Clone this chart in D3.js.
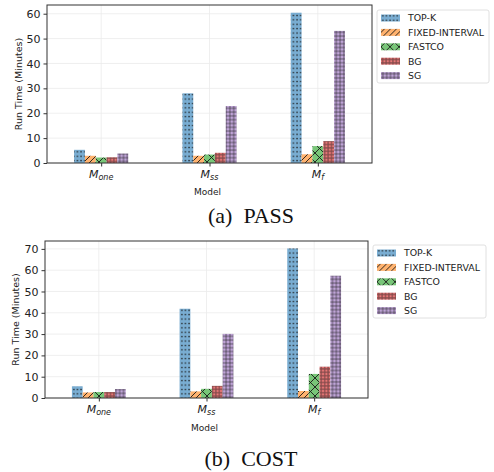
<!DOCTYPE html>
<html><head><meta charset="utf-8">
<script src="https://cdn.jsdelivr.net/npm/d3@7"></script>
<style>body{margin:0;background:#fff}svg{display:block}</style>
</head><body>
<svg id="chart" width="494" height="472"></svg>
<script>
// ---- data ----
const categories = ["one", "ss", "f"];           // subscripts of M
const seriesNames = ["TOP-K", "FIXED-INTERVAL", "FASTCO", "BG", "SG"];
const seriesColors = ["#79add2", "#ffb26e", "#78c678", "#e67676", "#bfa4d7"];
const seriesHatch = ["dots", "slash", "cross", "circles", "plus"];
const passTopK  = [5.3, 28.0, 60.4];
const passFixed = [2.9, 2.9, 3.5];
const passFast  = [2.2, 3.4, 6.8];
const passBG    = [2.3, 4.1, 8.8];
const passSG    = [3.8, 22.9, 53.1];
const costTopK  = [5.5, 41.9, 70.2];
const costFixed = [2.6, 3.1, 3.3];
const costFast  = [2.8, 4.3, 11.3];
const costBG    = [2.8, 5.7, 14.7];
const costSG    = [4.2, 30.1, 57.4];
const passTicks = [0, 10, 20, 30, 40, 50, 60];
const costTicks = [0, 10, 20, 30, 40, 50, 60, 70];

const svg = d3.select("#chart");
const defs = svg.append("defs");

// hatch patterns
function makePatterns() {
  seriesNames.forEach((s, j) => {
    const c = seriesColors[j], h = seriesHatch[j];
    const w = h === "cross" ? 9 : (h === "slash" ? 6 : (h === "dots" ? 3.6 : (h === "plus" ? 3.8 : 3.4)));
    const hh = h === "dots" ? 4.4 : w;
    const p = defs.append("pattern").attr("id", "pat" + j)
      .attr("patternUnits", "userSpaceOnUse").attr("width", w).attr("height", hh);
    p.append("rect").attr("width", w).attr("height", hh).attr("fill", c);
    const k = "#1a1a1a";
    if (h === "dots") {
      p.append("rect").attr("x", 1.2).attr("y", 1.6).attr("width", 1.3).attr("height", 1.3).attr("fill", k);
    } else if (h === "slash") {
      p.append("path").attr("d", `M0,${w} L${w},0 M${-w/2},${w/2} L${w/2},${-w/2} M${w/2},${w*1.5} L${w*1.5},${w/2}`)
        .attr("stroke", k).attr("stroke-width", 0.9);
    } else if (h === "cross") {
      p.append("path").attr("d", `M0,0 L${w},${w} M0,${w} L${w},0`)
        .attr("stroke", k).attr("stroke-width", 0.9);
    } else if (h === "circles") {
      p.append("circle").attr("cx", w/2).attr("cy", w/2).attr("r", 1.05)
        .attr("fill", "none").attr("stroke", k).attr("stroke-width", 0.55);
    } else if (h === "plus") {
      p.append("path").attr("d", `M${w/2},0 V${w} M0,${w/2} H${w}`)
        .attr("stroke", k).attr("stroke-width", 0.55);
    }
  });
}
makePatterns();

function panel(cfg) {
  const {values, ticks, ymax, x0, x1, yTop, yBot, legX, legY, legW, legH, caption, capY, modelY, ylabX} = cfg;
  const g = svg.append("g");
  const x = d3.scaleLinear().domain([-0.5, 2.5]).range([x0, x1]);
  const y = d3.scaleLinear().domain([0, ymax]).range([yBot, yTop]);

  // grid
  g.append("g").selectAll("line.h").data(ticks).join("line")
    .attr("x1", x0).attr("x2", x1).attr("y1", d => y(d)).attr("y2", d => y(d))
    .attr("stroke", "#ebebeb").attr("stroke-width", 0.8);
  g.append("g").selectAll("line.v").data(categories).join("line")
    .attr("x1", (d, i) => x(i)).attr("x2", (d, i) => x(i)).attr("y1", yTop).attr("y2", yBot)
    .attr("stroke", "#ebebeb").attr("stroke-width", 0.8);

  // bars
  const bw = 0.1;
  values.forEach((vals, j) => {
    g.append("g").selectAll("rect").data(vals).join("rect")
      .attr("x", (d, i) => x(i + (j - 2.5) * bw))
      .attr("width", x(bw) - x(0))
      .attr("y", d => y(d))
      .attr("height", d => y(0) - y(d))
      .attr("fill", `url(#pat${j})`);
  });

  // axes
  const ya = d3.axisLeft(y).tickValues(ticks).tickSize(3.5).tickPadding(3);
  const yg = g.append("g").attr("transform", `translate(${x0},0)`).call(ya);
  yg.select(".domain").remove();
  yg.selectAll("text").attr("font-family", "DejaVu Sans").attr("font-size", 11).attr("fill", "#222");
  yg.selectAll("line").attr("stroke", "#333");
  const xa = d3.axisBottom(x).tickValues([0, 1, 2]).tickSize(3.5).tickFormat("");
  const xg = g.append("g").attr("transform", `translate(0,${yBot})`).call(xa);
  xg.select(".domain").remove();
  xg.selectAll("line").attr("stroke", "#333");
  // category labels
  categories.forEach((c, i) => {
    const t = g.append("text").attr("x", x(i)).attr("y", yBot + 14.5)
      .attr("text-anchor", "middle").attr("font-family", "DejaVu Sans").attr("fill", "#222");
    t.append("tspan").attr("font-style", "italic").attr("font-size", 11).text("M");
    t.append("tspan").attr("font-style", "italic").attr("font-size", 8).attr("dy", 2.5).text(c);
  });
  // frame
  g.append("rect").attr("x", x0).attr("y", yTop).attr("width", x1 - x0).attr("height", yBot - yTop)
    .attr("fill", "none").attr("stroke", "#333").attr("stroke-width", 1);

  // labels
  g.append("text").attr("x", (x0 + x1) / 2 - 2).attr("y", modelY).attr("text-anchor", "middle")
    .attr("font-family", "DejaVu Sans").attr("font-size", 9).attr("fill", "#222").text("Model");
  g.append("text").attr("transform", `translate(${ylabX},${(yTop + yBot) / 2}) rotate(-90)`)
    .attr("text-anchor", "middle").attr("font-family", "DejaVu Sans").attr("font-size", 9.5)
    .attr("fill", "#222").text("Run Time (Minutes)");

  // legend
  g.append("rect").attr("x", legX).attr("y", legY).attr("width", legW).attr("height", legH)
    .attr("rx", 2).attr("fill", "#fff").attr("stroke", "#d8d8d8").attr("stroke-width", 0.8);
  const le = g.append("g").selectAll("g").data(seriesNames).join("g")
    .attr("transform", (d, j) => `translate(${legX + 4},${legY + 8 + j * 14.4})`);
  le.append("rect").attr("x", 0).attr("y", -3.5).attr("width", 19).attr("height", 7)
    .attr("fill", (d, j) => `url(#pat${j})`);
  le.append("text").attr("x", 27).attr("y", 3.4).attr("font-family", "DejaVu Sans")
    .attr("font-size", 9.4).attr("fill", "#222").text(d => d);

  // caption
  svg.append("text").attr("x", 251).attr("y", capY).attr("text-anchor", "middle")
    .attr("font-family", "Liberation Serif").attr("font-size", 22).attr("fill", "#111")
    .attr("xml:space", "preserve").style("white-space", "pre").text(caption);
}

panel({values: [passTopK, passFixed, passFast, passBG, passSG], ticks: passTicks, ymax: 63.5,
  x0: 47, x1: 372, yTop: 5, yBot: 163, legX: 377, legY: 10, legW: 112, legH: 73,
  caption: "(a)  PASS", capY: 223, modelY: 195, ylabX: 22});
panel({values: [costTopK, costFixed, costFast, costBG, costSG], ticks: costTicks, ymax: 73.7,
  x0: 45, x1: 368, yTop: 241, yBot: 398, legX: 373, legY: 245, legW: 113, legH: 73,
  caption: "(b)  COST", capY: 466, modelY: 431, ylabX: 19});
</script>
</body></html>
